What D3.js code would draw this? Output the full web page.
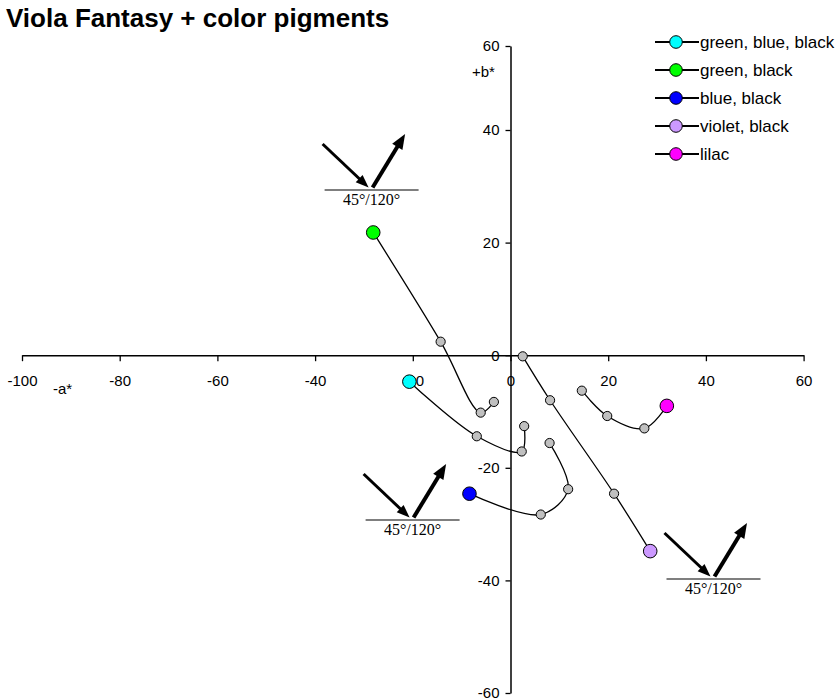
<!DOCTYPE html>
<html>
<head>
<meta charset="utf-8">
<script src="https://cdn.jsdelivr.net/npm/d3@7"></script>
<style>
  body { margin: 0; background: #fff; }
  svg { display: block; }
</style>
</head>
<body>
<svg id="chart" width="840" height="700"></svg>
<script>
// CIELAB a*/b* trajectories of Viola Fantasy with added pigments
const seriesNames  = ["green, blue, black", "green, black", "blue, black", "violet, black", "lilac"];
const seriesColors = ["#00ffff", "#00ff00", "#0000ff", "#cc99ff", "#ff00ff"];

// a* values per series (first point is the coloured start point)
const aValues = [
  [-20.7, -6.9, 2.3, 2.8],
  [-28.1, -14.3, -6.1, -3.4],
  [-8.4, 6.2, 11.8, 8.0],
  [28.6, 21.2, 8.1, 2.5],
  [32.0, 27.4, 19.8, 14.6]
];
// b* values per series
const bValues = [
  [-4.7, -14.4, -17.1, -12.6],
  [21.8, 2.4, -10.2, -8.3],
  [-24.6, -28.3, -23.8, -15.6],
  [-34.8, -24.6, -8.0, -0.2],
  [-9.0, -13.0, -10.8, -6.3]
];

const xTickValues = [-100, -80, -60, -40, -20, 0, 20, 40, 60];
const yTickValues = [-60, -40, -20, 0, 20, 40, 60];

const titleText = "Viola Fantasy + color pigments";
const geometryLabel = "45°/120°";

const svg = d3.select("#chart");

const x = d3.scaleLinear().domain([-100, 60]).range([22, 803.6]);
const y = d3.scaleLinear().domain([-60, 40, 60]).range([693, 130, 46]);

const fontSans = "Arial, 'Liberation Sans', Helvetica, sans-serif";
const fontSerif = "'Times New Roman', 'Liberation Serif', serif";

// Title
svg.append("text")
  .attr("x", 6).attr("y", 27)
  .attr("font-family", fontSans)
  .attr("font-size", 26)
  .attr("font-weight", "bold")
  .text(titleText);

// Axes crossing at the origin; plain hyphen for negative labels
const fmt = d => String(d);
const xAxis = d3.axisBottom(x).tickValues(xTickValues).tickFormat(fmt).tickSize(6).tickPadding(14).tickSizeOuter(0);
const yAxis = d3.axisLeft(y).tickValues(yTickValues).tickFormat(fmt).tickSize(5).tickPadding(6).tickSizeOuter(0);

const gx = svg.append("g").attr("transform", `translate(0,${y(0)})`).call(xAxis);
const gy = svg.append("g").attr("transform", `translate(${x(0)},0)`).call(yAxis);

[gx, gy].forEach(g => {
  g.select(".domain").attr("stroke", "#000").attr("stroke-width", 1.5);
  g.selectAll(".tick line").attr("stroke", "#000").attr("stroke-width", 1.3);
  g.selectAll(".tick text")
    .attr("font-family", fontSans)
    .attr("font-size", 15)
    .attr("fill", "#000");
});

// Axis titles
svg.append("text")
  .attr("x", 53).attr("y", 394)
  .attr("font-family", fontSans).attr("font-size", 15)
  .text("-a*");
svg.append("text")
  .attr("x", 472).attr("y", 77)
  .attr("font-family", fontSans).attr("font-size", 15)
  .text("+b*");

// Measurement-geometry pictograms (incident / reflected light)
const iconCentres = [[371.6, 190], [412.6, 520], [713.5, 579]];

function arrow(g, x1, y1, x2, y2, w, headLen, headW) {
  const dx = x2 - x1, dy = y2 - y1;
  const len = Math.hypot(dx, dy);
  const ux = dx / len, uy = dy / len;
  const bx = x2 - ux * headLen, by = y2 - uy * headLen;
  g.append("line")
    .attr("x1", x1).attr("y1", y1).attr("x2", bx + ux * 1).attr("y2", by + uy * 1)
    .attr("stroke", "#000").attr("stroke-width", w);
  const px = -uy, py = ux;
  g.append("path")
    .attr("d", `M${x2},${y2}L${bx + px * headW / 2},${by + py * headW / 2}L${bx - px * headW / 2},${by - py * headW / 2}Z`)
    .attr("fill", "#000");
}

iconCentres.forEach(([cx, cy]) => {
  const g = svg.append("g").attr("transform", `translate(${cx},${cy})`);
  g.append("line")
    .attr("x1", -47).attr("x2", 47).attr("y1", 0).attr("y2", 0)
    .attr("stroke", "#000").attr("stroke-width", 1.2);
  arrow(g, -49, -46, -3, -2.5, 3, 13, 10);
  arrow(g, 1, -2.5, 33.5, -56, 4, 15, 12);
  g.append("text")
    .attr("x", 0).attr("y", 15)
    .attr("text-anchor", "middle")
    .attr("font-family", fontSerif)
    .attr("font-size", 16)
    .text(geometryLabel);
});

// Smoothed trajectories
const line = d3.line()
  .x(d => x(d[0]))
  .y(d => y(d[1]))
  .curve(d3.curveCatmullRom.alpha(0.5));

const seriesData = seriesNames.map((name, i) => ({
  name,
  color: seriesColors[i],
  points: aValues[i].map((a, j) => [a, bValues[i][j]])
}));

const plot = svg.append("g");

plot.selectAll("path.trace")
  .data(seriesData)
  .join("path")
  .attr("class", "trace")
  .attr("d", d => line(d.points))
  .attr("fill", "none")
  .attr("stroke", "#000")
  .attr("stroke-width", 1.3);

// Intermediate points (grey)
plot.selectAll("g.mid")
  .data(seriesData)
  .join("g")
  .attr("class", "mid")
  .selectAll("circle")
  .data(d => d.points.slice(1))
  .join("circle")
  .attr("cx", d => x(d[0]))
  .attr("cy", d => y(d[1]))
  .attr("r", 4.6)
  .attr("fill", "#c0c0c0")
  .attr("stroke", "#000")
  .attr("stroke-width", 1);

// Start points in the pigment colour
plot.selectAll("circle.start")
  .data(seriesData)
  .join("circle")
  .attr("class", "start")
  .attr("cx", d => x(d.points[0][0]))
  .attr("cy", d => y(d.points[0][1]))
  .attr("r", 6.8)
  .attr("fill", d => d.color)
  .attr("stroke", "#000")
  .attr("stroke-width", 1);

// Legend
const legend = svg.append("g").attr("transform", "translate(655,42)");
const rows = legend.selectAll("g")
  .data(seriesData)
  .join("g")
  .attr("transform", (d, i) => `translate(0,${i * 28})`);
rows.append("line")
  .attr("x1", 0).attr("x2", 44).attr("y1", 0).attr("y2", 0)
  .attr("stroke", "#000").attr("stroke-width", 2.2);
rows.append("circle")
  .attr("cx", 21).attr("cy", 0).attr("r", 6.3)
  .attr("fill", d => d.color)
  .attr("stroke", "#000").attr("stroke-width", 1);
rows.append("text")
  .attr("x", 45).attr("y", 0).attr("dy", "0.36em")
  .attr("font-family", fontSans)
  .attr("font-size", 17)
  .text(d => d.name);
</script>
</body>
</html>
